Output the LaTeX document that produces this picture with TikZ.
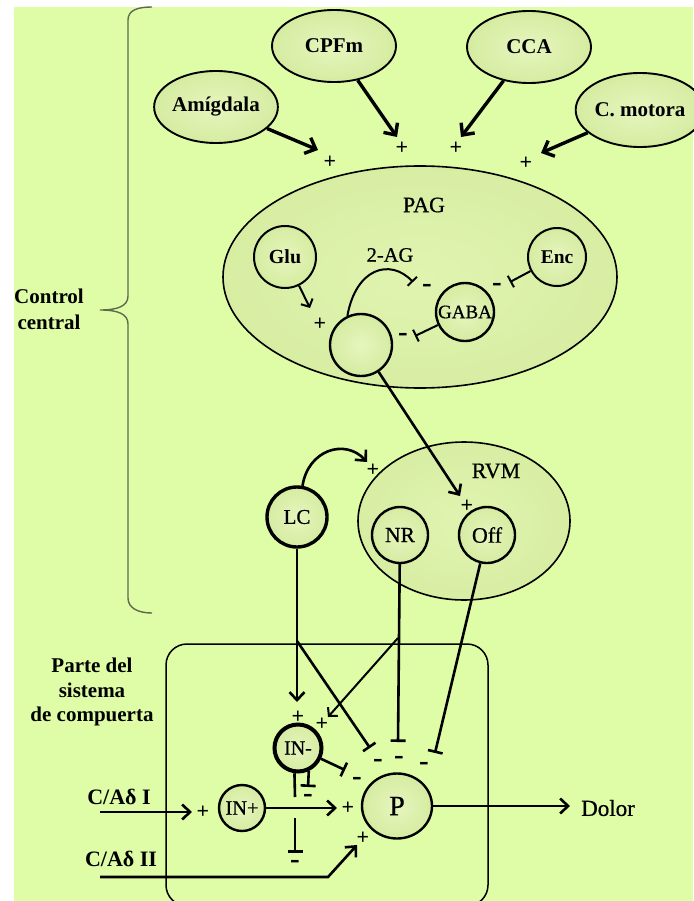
\documentclass[tikz,border=0pt]{standalone}
\usepackage{fontspec}
\setmainfont{Liberation Serif}
\newfontfamily\medserif[FakeBold=0.7]{Liberation Serif}
\usetikzlibrary{shapes.geometric,arrows.meta}
\definecolor{bg}{RGB}{223,252,167}
\definecolor{ncin}{RGB}{230,246,190}
\definecolor{ncmid}{RGB}{214,236,162}
\definecolor{ncout}{RGB}{186,208,126}
\definecolor{ncrim}{RGB}{80,95,50}
\definecolor{bgin}{RGB}{224,244,176}
\definecolor{bgmid}{RGB}{214,236,160}
\definecolor{bgout}{RGB}{198,220,140}
\definecolor{bracec}{RGB}{95,105,75}
\pgfdeclareradialshading{cellshade}{\pgfpoint{0bp}{0bp}}{color(0bp)=(ncin); color(24bp)=(ncmid); color(41bp)=(ncout); color(50bp)=(ncrim)}
\pgfdeclareradialshading{bigshade}{\pgfpoint{0bp}{0bp}}{color(0bp)=(bgin); color(30bp)=(bgmid); color(46bp)=(bgout); color(50bp)=(ncrim)}
\tikzset{
  oval/.style={ellipse, draw=black, line width=1.9pt, shade, shading=cellshade, inner sep=0pt,
    font=\bfseries\fontsize{21}{21}\selectfont},
  bigoval/.style={ellipse, draw=black, line width=1.6pt, shade, shading=bigshade, inner sep=0pt},
  cell/.style={circle, draw=black, line width=2pt, shade, shading=cellshade, inner sep=0pt,
    font=\medserif\fontsize{21}{21}\selectfont},
  darkcell/.style={cell, line width=3.4pt},
  lbl/.style={inner sep=0pt, font=\medserif\fontsize{21}{21}\selectfont},
  blbl/.style={inner sep=0pt, font=\bfseries\fontsize{21}{21}\selectfont},
  plus/.style={inner sep=0pt, font=\bfseries\fontsize{22}{22}\selectfont},
  minus/.style={inner sep=0pt, font=\bfseries\fontsize{29}{29}\selectfont},
  arrbig/.style={line width=3.4pt, -{Straight Barb[length=9pt,width=17pt]}},
  arrmid/.style={line width=2.6pt, -{Straight Barb[length=8pt,width=15pt]}},
  arrthin/.style={line width=2pt, -{Straight Barb[length=6pt,width=13pt]}},
  inhmid/.style={line width=2.6pt, -{Bar[width=15pt]}},
  inhthin/.style={line width=2pt, -{Bar[width=13pt]}},
  plain/.style={line width=2.6pt},
}
\begin{document}
\begin{tikzpicture}[x=1pt,y=-1pt]
\useasboundingbox (0,0) rectangle (693,901);
\fill[white] (0,0) rectangle (693,901);
\fill[bg] (14,7) rectangle (693,901);

% brace
\draw[bracec, line width=1.4pt] (152,7) .. controls (138,7) and (128,10) .. (128,20) -- (128,296)
  .. controls (128,306) and (118,310) .. (100,310)
  .. controls (118,310) and (128,314) .. (128,324) -- (128,598)
  .. controls (128,608) and (138,613) .. (152,613);
\node[blbl, align=center, font=\bfseries\fontsize{21}{26}\selectfont] (ctrl) at (49,309) {Control\\central};

% gate box
\draw[line width=1.5pt, rounded corners=21pt] (166,644) rectangle (488,906);
\node[blbl, align=center, font=\bfseries\fontsize{21}{24.5}\selectfont] (parte) at (92,692) {Parte del\\sistema\\de compuerta};

% top regions
\node[oval, minimum width=122pt, minimum height=72pt] (amy) at (216,107) {Amígdala};
\node[oval, minimum width=124pt, minimum height=72pt] (cpf) at (334,46) {CPFm};
\node[oval, minimum width=124pt, minimum height=72pt] (cca) at (529,47) {CCA};
\node[oval, minimum width=124pt, minimum height=74pt] (cmo) at (640,110) {C. motora};

\coordinate (amyT) at (318,150);
\coordinate (cpfT) at (397,137);
\coordinate (ccaT) at (461,137);
\coordinate (cmoT) at (541,153);
\draw[arrbig] (amy) -- (amyT);
\draw[arrbig] (cpf) -- (cpfT);
\draw[arrbig] (cca) -- (ccaT);
\draw[arrbig] (cmo) -- (cmoT);
\node[plus] (pa) at (330,162) {+};
\node[plus] (pb) at (402,148) {+};
\node[plus] (pc) at (456,148) {+};
\node[plus] (pd) at (526,163) {+};

% PAG
\node[bigoval, minimum width=394pt, minimum height=222pt] (pag) at (420,277) {};
\node[lbl, font=\medserif\fontsize{22}{22}\selectfont] (pagl) at (424,205) {PAG};
\node[cell, minimum size=62pt, font=\bfseries\fontsize{20}{20}\selectfont] (glu) at (285,257) {Glu};
\node[cell, minimum size=58pt, font=\bfseries\fontsize{19.5}{19.5}\selectfont] (enc) at (557,257) {Enc};
\node[cell, minimum size=58pt, font=\medserif\fontsize{19}{19}\selectfont, line width=2.4pt] (gaba) at (465,312) {GABA};
\node[cell, minimum size=62pt, line width=2.4pt] (neu) at (361,345) {};
\node[lbl, font=\medserif\fontsize{20.5}{20.5}\selectfont] (ag) at (390,255) {2-AG};

\coordinate (gluT) at (310,308);
\coordinate (agB) at (413,282);
\coordinate (encB) at (510,282);
\coordinate (gabaB) at (415,336);
\draw[arrthin] (glu) -- (gluT);
\draw[inhthin] (neu.115) .. controls (356,268) and (390,258) .. (agB);
\draw[inhthin] (enc) -- (encB);
\draw[inhthin] (gaba) -- (gabaB);
\node[plus] (pglu) at (320,324) {+};
\node[minus] (mag) at (427,288) {-};
\node[minus] (menc) at (497,287) {-};
\node[minus] (mgaba) at (403,337) {-};

% RVM
\node[bigoval, minimum width=212pt, minimum height=158pt] (rvm) at (464,521) {};
\node[lbl, font=\medserif\fontsize{22}{22}\selectfont] (rvml) at (496,471) {RVM};
\node[darkcell, minimum size=60pt] (lc) at (297,517) {LC};
\node[cell, minimum size=56pt, line width=2.4pt, font=\medserif\fontsize{21.5}{21.5}\selectfont] (nr) at (400,535) {NR};
\node[cell, minimum size=56pt, line width=2.4pt, font=\medserif\fontsize{22}{22}\selectfont] (off) at (487,535) {Off};

\coordinate (offT) at (460,496);
\coordinate (lcT) at (367,462);
\draw[arrmid] (neu) -- (offT);
\draw[arrmid] (lc.80) .. controls (308,450) and (345,438) .. (lcT);
\node[plus] (prvm) at (373,470) {+};
\node[plus] (poff) at (467,506) {+};

% descending lines
\coordinate (lcD) at (297,702);
\coordinate (lcBr) at (297,641);
\coordinate (lcB) at (370,748);
\coordinate (nrB) at (398,742);
\coordinate (nrBr) at (398,638);
\coordinate (nrT) at (328,717);
\coordinate (offB) at (435,753);
\draw[arrmid] (lc) -- (lcD);
\draw[inhmid] (lcBr) -- (lcB);
\draw[inhmid] (nr) -- (nrB);
\draw[line width=2pt, -{Straight Barb[length=6pt,width=13pt]}] (nrBr) -- (nrT);
\draw[inhmid] (off) -- (offB);
\node[plus] (plc) at (298,717) {+};
\node[plus] (pnr) at (322,724) {+};
\node[minus] (mlc) at (378,763) {-};
\node[minus] (mnr) at (399,760) {-};
\node[minus] (moff) at (424,766) {-};

% spinal cord circuit
\node[darkcell, minimum size=47pt, line width=4pt, font=\medserif\fontsize{20}{20}\selectfont] (inm) at (298,748) {IN-};
\node[cell, minimum size=46pt, line width=2.4pt, font=\medserif\fontsize{20.5}{20.5}\selectfont] (inp) at (242,808) {IN+};
\node[cell, minimum width=70pt, minimum height=65pt, ellipse, line width=2.4pt, font=\medserif\fontsize{28}{28}\selectfont] (P) at (397,806) {P};

\coordinate (inmB) at (345,770);
\coordinate (inmB2) at (308,787);
\coordinate (g1) at (295,797);
\coordinate (g2) at (295,818);
\coordinate (inmB1) at (295,853);
\draw[inhmid] (inm) -- (inmB);
\draw[inhmid] (inm.-65) -- (inmB2);
\draw[plain] (inm.-98) -- (g1);
\draw[inhmid] (g2) -- (inmB1);
\node[minus] (minm) at (357,781) {-};
\node[minus] (minm2) at (308,798) {-};
\node[minus] (minm1) at (295,864) {-};

\coordinate (inpT) at (337,808);
\coordinate (c1s) at (100,812);
\coordinate (c1T) at (192,812);
\coordinate (c2s) at (100,877);
\coordinate (c2k) at (328,877);
\coordinate (c2T) at (357,845);
\coordinate (dolT) at (570,806);
\draw[arrmid] (inp) -- (inpT);
\draw[arrmid] (c1s) -- (c1T);
\draw[arrmid] (c2s) -- (c2k) -- (c2T);
\draw[arrmid] (P) -- (dolT);
\node[plus] (pc1) at (203,812) {+};
\node[plus] (pinp) at (348,808) {+};
\node[plus] (pc2) at (363,838) {+};

\node[blbl, font=\bfseries\fontsize{22}{22}\selectfont] (c1) at (119,797) {C/Aδ I};
\node[blbl, font=\bfseries\fontsize{22}{22}\selectfont] (c2) at (121,859) {C/Aδ II};
\node[lbl, anchor=west, font=\medserif\fontsize{23}{23}\selectfont] (dol) at (581,808) {Dolor};
\end{tikzpicture}
\end{document}
